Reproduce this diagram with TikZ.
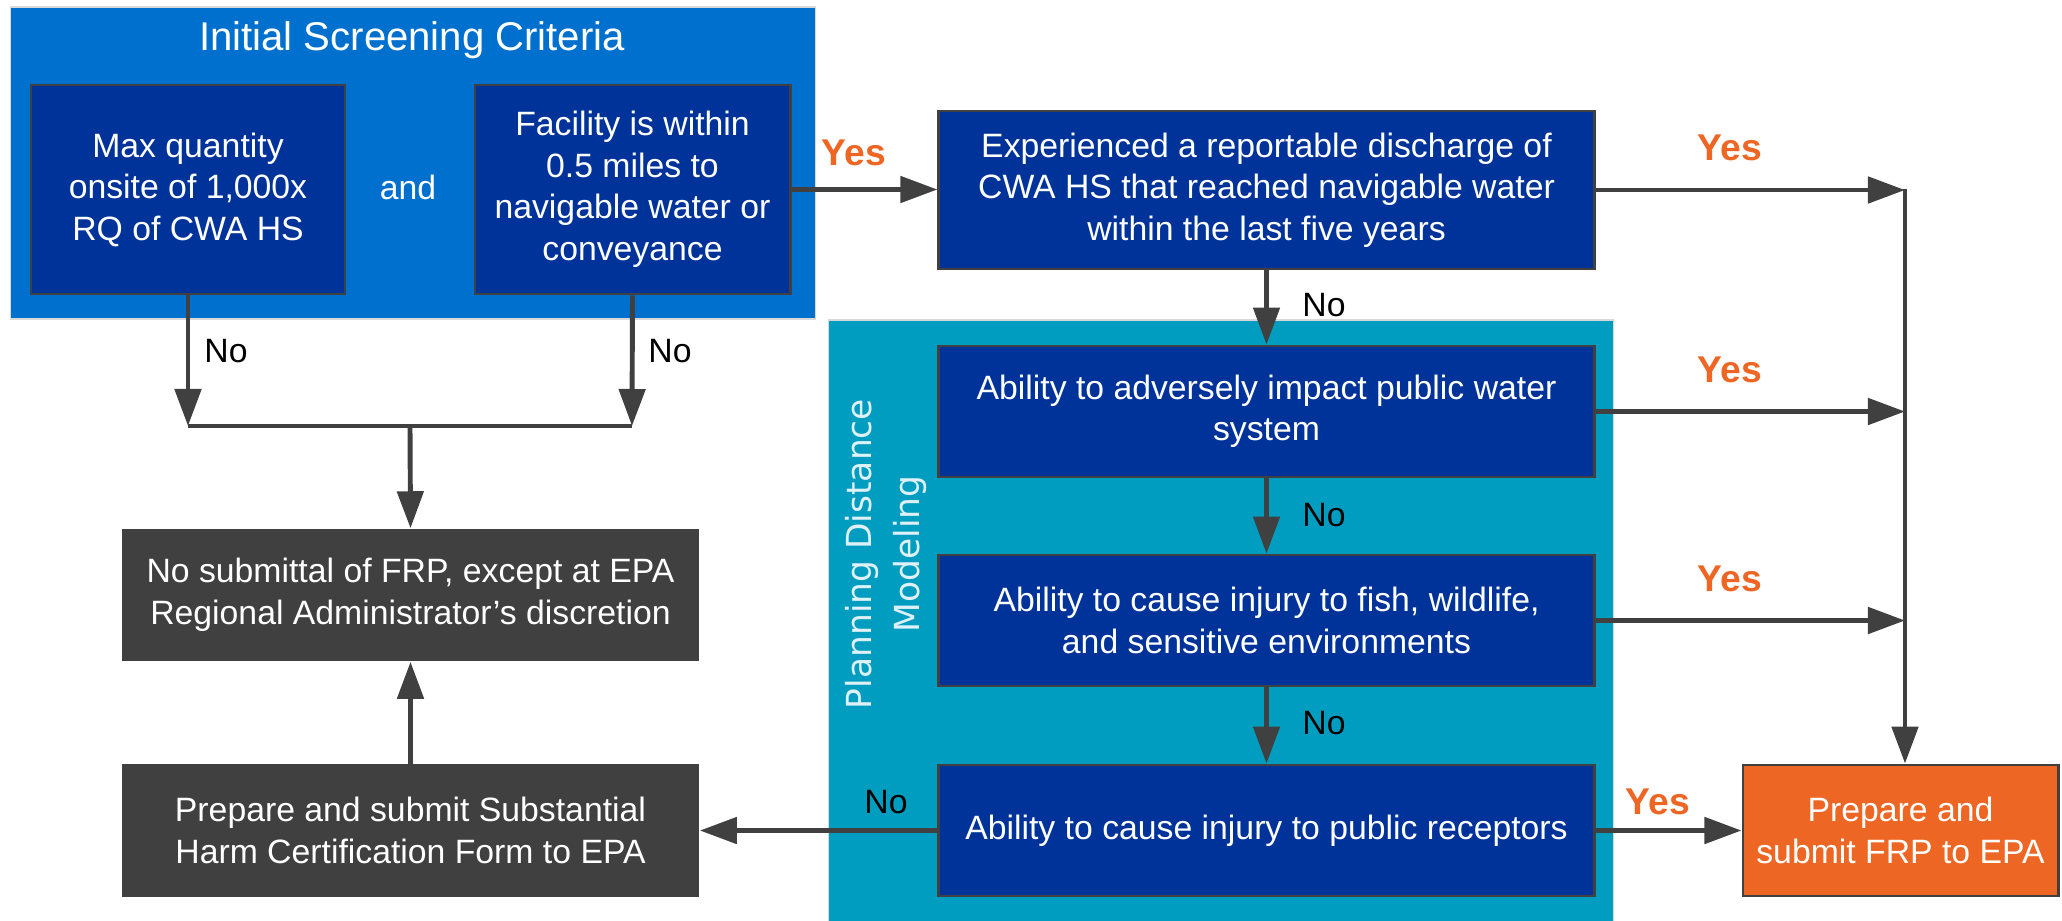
\documentclass[tikz,border=0pt]{standalone}
\usepackage{fontspec}
\setmainfont{Liberation Sans}
\newfontfamily\modelfont{DejaVu Sans}
\usetikzlibrary{arrows.meta,positioning}
\definecolor{screenblue}{RGB}{0,112,206}
\definecolor{boxnavy}{RGB}{0,51,153}
\definecolor{modelteal}{RGB}{0,157,192}
\definecolor{arrowgray}{RGB}{64,64,64}
\definecolor{frporange}{RGB}{238,102,35}
\definecolor{labeltint}{RGB}{222,240,248}

\begin{document}
\begin{tikzpicture}[x=0.01cm,y=-0.01cm,
  every node/.style={font=\fontsize{9.6}{11.8}\selectfont},
  navybox/.style={draw=arrowgray,line width=0.8pt,fill=boxnavy,text=white,align=center,inner sep=0pt},
  graybox/.style={fill=arrowgray,text=white,align=center,inner sep=0pt,minimum width=5.77cm,minimum height=1.32cm},
  flow/.style={arrowgray,line width=1.4pt},
  flowarrow/.style={flow,-{Triangle[length=0.37cm,width=0.26cm]}},
  yeslabel/.style={text=frporange,font=\fontsize{10.6}{12}\selectfont\bfseries},
  nolabel/.style={text=black}]
\useasboundingbox (0,0) rectangle (2062,920);
% group panels
\node[fill=screenblue,draw=black!15,inner sep=0pt,minimum width=8.04cm,minimum height=3.12cm] (isc) at (413,163) {};
\node[text=white,font=\fontsize{11.4}{13}\selectfont] (isctitle) at (412,40) {Initial Screening Criteria};
\node[fill=modelteal,draw=black!15,inner sep=0pt,minimum width=7.84cm,minimum height=6.2cm] (pdm) at (1221,630) {};
\node[rotate=90,text=labeltint,align=center,font=\modelfont\fontsize{9.8}{13.5}\selectfont] (pdmlabel) at (886,554) {Planning Distance\\Modeling};
% screening criteria
\node[navybox,minimum width=3.14cm,minimum height=2.09cm] (maxq) at (188,189.5) {Max quantity\\onsite of 1,000x\\RQ of CWA HS};
\node[text=white] (andlabel) at (408,187) {and};
\node[navybox,minimum width=3.15cm,minimum height=2.09cm] (facil) at (632.5,189.5) {Facility is within\\0.5 miles to\\navigable water or\\conveyance};
% discharge history and modeling
\node[navybox,minimum width=6.55cm,minimum height=1.58cm] (exper) at (1266.5,190) {Experienced a reportable discharge of\\CWA HS that reached navigable water\\within the last five years};
\node[navybox,minimum width=6.55cm,minimum height=1.31cm] (pub) at (1266.5,411.5) {Ability to adversely impact public water\\system};
\node[navybox,minimum width=6.55cm,minimum height=1.31cm] (fish) at (1266.5,620.5) {Ability to cause injury to fish, wildlife,\\and sensitive environments};
\node[navybox,minimum width=6.55cm,minimum height=1.31cm] (recep) at (1266.5,830.5) {Ability to cause injury to public receptors};
% outcomes
\node[draw=arrowgray,line width=0.8pt,fill=frporange,text=white,align=center,inner sep=0pt,minimum width=3.15cm,minimum height=1.31cm] (frp) at (1900.5,830.5) {Prepare and\\submit FRP to EPA};
\node[graybox] (nofrp) at (410.5,595) {No submittal of FRP, except at EPA\\Regional Administrator’s discretion};
\node[graybox] (shcf) at (410.5,830.5) {Prepare and submit Substantial\\Harm Certification Form to EPA};
\coordinate (railtop) at (1905,189);
\coordinate (noleft) at (188,426);
\coordinate (noright) at (632,426);
\coordinate (nojoin) at (410,426);
% yes branches
\draw[flowarrow] (facil.east) -- (exper.west |- facil.east);
\draw[flowarrow] (exper.east) -- (exper.east -| railtop);
\draw[flowarrow] (pub.east) -- (pub.east -| railtop);
\draw[flowarrow] (fish.east) -- (fish.east -| railtop);
\draw[flowarrow] (railtop) -- (railtop |- frp.north);
\draw[flowarrow] (recep.east) -- (frp.west);
% no branches
\draw[flowarrow] (exper.south) -- (pub.north);
\draw[flowarrow] (pub.south) -- (fish.north);
\draw[flowarrow] (fish.south) -- (recep.north);
\draw[flowarrow] (recep.west) -- (shcf.east);
\draw[flowarrow] (maxq.south) -- (noleft);
\draw[flowarrow] (facil.south) -- (noright);
\draw[flow] (noleft) -- (noright);
\draw[flowarrow] (nojoin) -- (nofrp.north);
\draw[flowarrow] (shcf.north) -- (nofrp.south);
% labels
\node[yeslabel] (yes1) at (854,153) {Yes};
\node[yeslabel] (yes2) at (1730,148) {Yes};
\node[yeslabel] (yes3) at (1730,370) {Yes};
\node[yeslabel] (yes4) at (1730,579) {Yes};
\node[yeslabel] (yes5) at (1658,802) {Yes};
\node[nolabel] (no1) at (226,351) {No};
\node[nolabel] (no2) at (670,351) {No};
\node[nolabel] (no3) at (1324,305) {No};
\node[nolabel] (no4) at (1324,515) {No};
\node[nolabel] (no5) at (1324,723) {No};
\node[nolabel] (no6) at (886,802) {No};
\end{tikzpicture}
\end{document}
